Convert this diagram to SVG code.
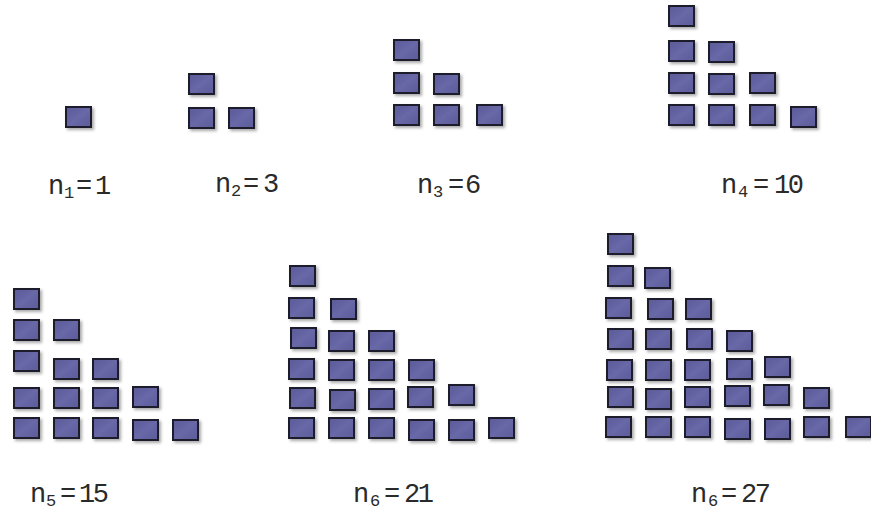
<svg xmlns="http://www.w3.org/2000/svg" xmlns:xlink="http://www.w3.org/1999/xlink" width="871" height="513" viewBox="0 0 871 513">
<style>
.lbl{font-family:"Liberation Mono","DejaVu Sans Mono",monospace;font-size:27px;fill:#2a2a2a}
.sub{font-size:17px}
.dd{letter-spacing:-2.5px}
</style>
<defs>
<filter id="sh" x="-20%" y="-20%" width="160%" height="160%">
<feDropShadow dx="2" dy="2" stdDeviation="1.4" flood-color="#707070" flood-opacity="0.6"/>
</filter>
<linearGradient id="gf" x1="0" y1="0" x2="1" y2="1">
<stop offset="0" stop-color="#5a5a98"/>
<stop offset="0.5" stop-color="#6868a8"/>
<stop offset="1" stop-color="#5c5c9a"/>
</linearGradient>
<g id="sq"><rect x="1" y="1" width="25" height="20" fill="url(#gf)" stroke="#1c1c2c" stroke-width="2" filter="url(#sh)"/></g>
</defs>
<rect width="871" height="513" fill="#ffffff"/>

<g id="fig1">
<use href="#sq" x="65" y="106"/>
<text class="lbl" y="194"><tspan x="48">n</tspan><tspan class="sub" x="64" dy="4">1</tspan><tspan x="76" dy="-4">=</tspan><tspan x="95">1</tspan></text>
</g>

<g id="fig2">
<use href="#sq" x="188" y="73"/>
<use href="#sq" x="188" y="107"/><use href="#sq" x="228" y="107"/>
<text class="lbl" y="192"><tspan x="215">n</tspan><tspan class="sub" x="231" dy="4">2</tspan><tspan x="243" dy="-4">=</tspan><tspan x="263">3</tspan></text>
</g>

<g id="fig3">
<use href="#sq" x="393" y="39"/>
<use href="#sq" x="393" y="72"/><use href="#sq" x="433" y="73"/>
<use href="#sq" x="393" y="104"/><use href="#sq" x="433" y="104"/><use href="#sq" x="476" y="104"/>
<text class="lbl" y="193"><tspan x="417">n</tspan><tspan class="sub" x="433" dy="4">3</tspan><tspan x="448" dy="-4">=</tspan><tspan x="465">6</tspan></text>
</g>

<g id="fig4">
<use href="#sq" x="668" y="5"/>
<use href="#sq" x="668" y="40"/><use href="#sq" x="708" y="41"/>
<use href="#sq" x="668" y="72"/><use href="#sq" x="708" y="73"/><use href="#sq" x="749" y="72"/>
<use href="#sq" x="668" y="104"/><use href="#sq" x="708" y="104"/><use href="#sq" x="749" y="104"/><use href="#sq" x="790" y="106"/>
<text class="lbl" y="193"><tspan x="721">n</tspan><tspan class="sub" x="738" dy="4">4</tspan><tspan x="753" dy="-4">=</tspan><tspan class="dd" x="774">10</tspan></text>
</g>

<g id="fig5">
<use href="#sq" x="13" y="288"/>
<use href="#sq" x="13" y="319"/><use href="#sq" x="53" y="319"/>
<use href="#sq" x="13" y="350"/><use href="#sq" x="53" y="358"/><use href="#sq" x="92" y="358"/>
<use href="#sq" x="13" y="387"/><use href="#sq" x="53" y="387"/><use href="#sq" x="92" y="387"/><use href="#sq" x="132" y="386"/>
<use href="#sq" x="13" y="417"/><use href="#sq" x="53" y="417"/><use href="#sq" x="92" y="417"/><use href="#sq" x="132" y="419"/><use href="#sq" x="172" y="419"/>
<text class="lbl" y="502"><tspan x="30">n</tspan><tspan class="sub" x="46" dy="4">5</tspan><tspan x="60" dy="-4">=</tspan><tspan class="dd" x="79">15</tspan></text>
</g>

<g id="fig6">
<use href="#sq" x="289" y="265"/>
<use href="#sq" x="288" y="297"/><use href="#sq" x="330" y="298"/>
<use href="#sq" x="290" y="327"/><use href="#sq" x="328" y="330"/><use href="#sq" x="368" y="330"/>
<use href="#sq" x="288" y="358"/><use href="#sq" x="328" y="359"/><use href="#sq" x="368" y="359"/><use href="#sq" x="408" y="359"/>
<use href="#sq" x="289" y="387"/><use href="#sq" x="329" y="389"/><use href="#sq" x="368" y="388"/><use href="#sq" x="407" y="386"/><use href="#sq" x="448" y="384"/>
<use href="#sq" x="288" y="417"/><use href="#sq" x="328" y="417"/><use href="#sq" x="368" y="417"/><use href="#sq" x="408" y="419"/><use href="#sq" x="448" y="419"/><use href="#sq" x="488" y="417"/>
<text class="lbl" y="502"><tspan x="353">n</tspan><tspan class="sub" x="370" dy="4">6</tspan><tspan x="384" dy="-4">=</tspan><tspan class="dd" x="404">21</tspan></text>
</g>

<g id="fig7">
<use href="#sq" x="607" y="233"/>
<use href="#sq" x="607" y="265"/><use href="#sq" x="644" y="267"/>
<use href="#sq" x="605" y="297"/><use href="#sq" x="647" y="298"/><use href="#sq" x="685" y="298"/>
<use href="#sq" x="607" y="328"/><use href="#sq" x="645" y="328"/><use href="#sq" x="686" y="328"/><use href="#sq" x="726" y="330"/>
<use href="#sq" x="606" y="359"/><use href="#sq" x="645" y="359"/><use href="#sq" x="684" y="359"/><use href="#sq" x="726" y="358"/><use href="#sq" x="764" y="356"/>
<use href="#sq" x="607" y="386"/><use href="#sq" x="645" y="388"/><use href="#sq" x="684" y="386"/><use href="#sq" x="724" y="385"/><use href="#sq" x="763" y="384"/><use href="#sq" x="803" y="387"/>
<use href="#sq" x="605" y="416"/><use href="#sq" x="645" y="416"/><use href="#sq" x="684" y="416"/><use href="#sq" x="724" y="418"/><use href="#sq" x="764" y="418"/><use href="#sq" x="803" y="416"/><use href="#sq" x="845" y="416"/>
<text class="lbl" y="502"><tspan x="691">n</tspan><tspan class="sub" x="708" dy="4">6</tspan><tspan x="721" dy="-4">=</tspan><tspan class="dd" x="741">27</tspan></text>
</g>
</svg>
